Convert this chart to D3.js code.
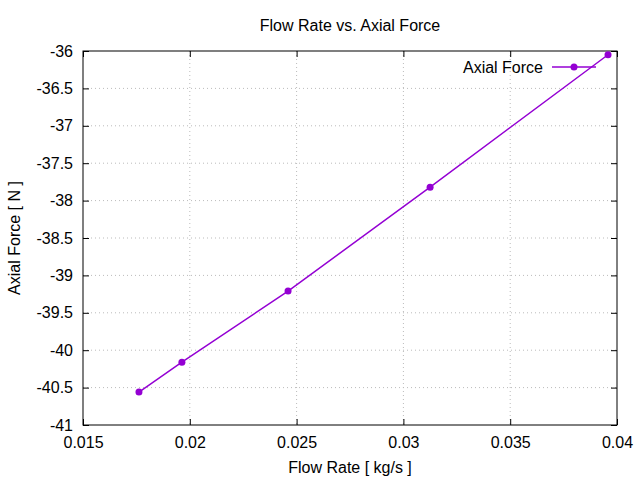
<!DOCTYPE html>
<html><head><meta charset="utf-8">
<script src="https://cdn.jsdelivr.net/npm/d3@7"></script>
<style>body{margin:0;background:#fff}text{font-family:"Liberation Sans",Arial,sans-serif;font-size:16px;fill:#000}</style>
</head><body><svg id="c" width="640" height="480"></svg>
<script>
const flowRate = [0.01762, 0.01963, 0.0246, 0.03125, 0.03958];
const axialForce = [-40.56, -40.16, -39.21, -37.82, -36.05];
const xTicks = [0.015, 0.02, 0.025, 0.03, 0.035, 0.04];
const yTicks = [-41, -40.5, -40, -39.5, -39, -38.5, -38, -37.5, -37, -36.5, -36];
const color = "#9400d3";

const svg = d3.select("#c");
const L = 83, R = 617, T = 51, B = 425;
const x = d3.scaleLinear().domain([0.015, 0.04]).range([L, R]);
const y = d3.scaleLinear().domain([-41, -36]).range([B, T]);

// grid
svg.append("g").selectAll("line").data(xTicks.slice(1, -1)).join("line")
  .attr("x1", d => x(d)).attr("x2", d => x(d)).attr("y1", T).attr("y2", B)
  .attr("stroke", "#bbb").attr("stroke-dasharray", "1,3");
svg.append("g").selectAll("line").data(yTicks.slice(1, -1)).join("line")
  .attr("y1", d => y(d)).attr("y2", d => y(d)).attr("x1", L).attr("x2", R)
  .attr("stroke", "#bbb").attr("stroke-dasharray", "1,3");

// axes with inward ticks
const xa = svg.append("g").attr("transform", `translate(0,${B})`)
  .call(d3.axisBottom(x).tickValues(xTicks).tickSize(-6).tickPadding(12).tickFormat(d => String(d)));
const xa2 = svg.append("g").attr("transform", `translate(0,${T})`)
  .call(d3.axisTop(x).tickValues(xTicks).tickSize(-6).tickFormat(""));
const ya = svg.append("g").attr("transform", `translate(${L},0)`)
  .call(d3.axisLeft(y).tickValues(yTicks).tickSize(-6).tickPadding(10).tickFormat(d => String(d)));
const ya2 = svg.append("g").attr("transform", `translate(${R},0)`)
  .call(d3.axisRight(y).tickValues(yTicks).tickSize(-6).tickFormat(""));
[xa, xa2, ya, ya2].forEach(g => {
  g.selectAll("text").style("font-size", "16px").attr("font-family", null);
  g.select(".domain").remove();
});
svg.append("rect").attr("x", L).attr("y", T).attr("width", R - L).attr("height", B - T)
  .attr("fill", "none").attr("stroke", "#000");

// series
const pts = flowRate.map((f, i) => [f, axialForce[i]]);
svg.append("path").datum(pts)
  .attr("d", d3.line().x(d => x(d[0])).y(d => y(d[1])))
  .attr("fill", "none").attr("stroke", color).attr("stroke-width", 1.5);
svg.append("g").selectAll("circle").data(pts).join("circle")
  .attr("cx", d => x(d[0])).attr("cy", d => y(d[1])).attr("r", 3.5).attr("fill", color);

// legend
svg.append("text").attr("x", 543).attr("y", 73).attr("text-anchor", "end").text("Axial Force");
svg.append("line").attr("x1", 552).attr("x2", 596).attr("y1", 67).attr("y2", 67)
  .attr("stroke", color).attr("stroke-width", 1.5);
svg.append("circle").attr("cx", 574).attr("cy", 67).attr("r", 3.5).attr("fill", color);

// titles
svg.append("text").attr("x", 350).attr("y", 31).attr("text-anchor", "middle").text("Flow Rate vs. Axial Force");
svg.append("text").attr("x", 350).attr("y", 473).attr("text-anchor", "middle").text("Flow Rate [ kg/s ]");
svg.append("text").attr("transform", "translate(20,238) rotate(-90)").attr("text-anchor", "middle").text("Axial Force [ N ]");
</script></body></html>
